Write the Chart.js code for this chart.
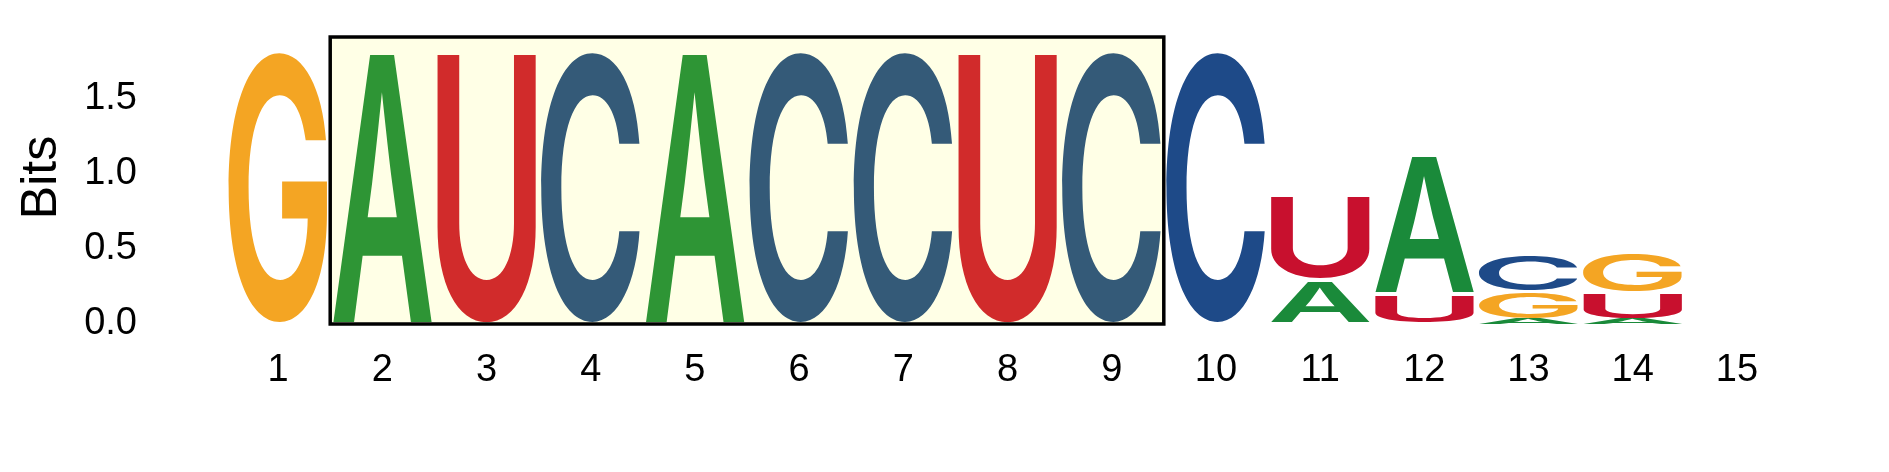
<!DOCTYPE html>
<html>
<head>
<meta charset="utf-8">
<script src="https://cdn.jsdelivr.net/npm/chart.js@4"></script>
<style>
  html, body { margin: 0; padding: 0; background: #ffffff; }
  #wrap { width: 1889px; height: 472px; }
</style>
</head>
<body>
<div id="wrap"><canvas id="logo"></canvas></div>
<script>
// Positions along the motif
const positions = ['1', '2', '3', '4', '5', '6', '7', '8', '9', '10', '11', '12', '13', '14', '15'];

// Letters stacked from the bottom up, one array per layer
const layer1Letters = ['G', 'A', 'U', 'C', 'A', 'C', 'C', 'U', 'C', 'C', 'A', 'U', 'A', 'A', ''];
const layer1Bits    = [1.81, 1.81, 1.81, 1.81, 1.81, 1.81, 1.81, 1.81, 1.81, 1.81, 0.29, 0.20, 0.04, 0.04, 0];
const layer2Letters = ['', '', '', '', '', '', '', '', '', '', 'U', 'A', 'G', 'U', ''];
const layer2Bits    = [0, 0, 0, 0, 0, 0, 0, 0, 0, 0, 0.57, 0.93, 0.17, 0.16, 0];
const layer3Letters = ['', '', '', '', '', '', '', '', '', '', '', '', 'C', 'G', ''];
const layer3Bits    = [0, 0, 0, 0, 0, 0, 0, 0, 0, 0, 0, 0, 0.26, 0.28, 0];

// Highlighted region (positions 2..9) and its height in bits
const highlightFrom = 2;
const highlightTo = 9;
const highlightTop = 1.91;

// Letter colours inside and outside the highlighted region
const insideColors  = { A: '#2e9535', C: '#345a78', G: '#f4a523', U: '#d12b2b' };
const outsideColors = { A: '#1a8a3a', C: '#1e4a88', G: '#f4a523', U: '#c8102e' };

const layerLetters = [layer1Letters, layer2Letters, layer3Letters];
const layerBits = [layer1Bits, layer2Bits, layer3Bits];

function highlightRect(chart) {
    const x = chart.scales.x, y = chart.scales.y;
    const left = x.getPixelForValue(highlightFrom - 1.5);
    const right = x.getPixelForValue(highlightTo - 0.5);
    const top = y.getPixelForValue(highlightTop);
    const bottom = y.getPixelForValue(0);
    return { left, top, w: right - left, h: bottom - top };
}

// Draws the highlight box and each letter stretched over its stacked bar
const letterPlugin = {
    id: 'letters',
    beforeDatasetsDraw(chart) {
        const { ctx } = chart;
        const r = highlightRect(chart);
        ctx.save();
        ctx.fillStyle = '#ffffe6';
        ctx.fillRect(r.left, r.top, r.w, r.h);
        ctx.restore();
    },
    afterDatasetsDraw(chart) {
        const { ctx } = chart;
        ctx.save();
        ctx.font = '600 200px Inter, "Liberation Sans", Arial, sans-serif';
        ctx.textAlign = 'left';
        ctx.textBaseline = 'alphabetic';
        chart.data.datasets.forEach((ds, di) => {
            const meta = chart.getDatasetMeta(di);
            meta.data.forEach((bar, i) => {
                const letter = layerLetters[di][i];
                if (!letter) return;
                const p = bar.getProps(['x', 'y', 'base', 'width'], true);
                const w = p.width;
                let h = p.base - p.y;
                if (h <= 0.5) return;
                const pad = h > 30 ? 2 : 0;
                const top = p.y + pad;
                h = h - 2 * pad;
                const m = ctx.measureText(letter);
                const gw = m.actualBoundingBoxLeft + m.actualBoundingBoxRight;
                const gh = m.actualBoundingBoxAscent + m.actualBoundingBoxDescent;
                const inside = (i + 1) >= highlightFrom && (i + 1) <= highlightTo;
                ctx.fillStyle = (inside ? insideColors : outsideColors)[letter];
                ctx.save();
                ctx.translate(p.x - w / 2, top);
                ctx.scale(w / gw, h / gh);
                ctx.fillText(letter, m.actualBoundingBoxLeft, m.actualBoundingBoxAscent);
                ctx.restore();
            });
        });
        // box outline on top of the letters
        const r = highlightRect(chart);
        ctx.strokeStyle = '#000000';
        ctx.lineWidth = 3.5;
        ctx.strokeRect(r.left, r.top, r.w, r.h);
        ctx.restore();
    }
};

const ctx = document.getElementById('logo').getContext('2d');
const logoChart = new Chart(ctx, {
    type: 'bar',
    data: {
        labels: positions,
        datasets: layerBits.map((bits, k) => ({
            label: 'layer ' + (k + 1),
            data: bits,
            backgroundColor: 'rgba(0,0,0,0)',
            borderWidth: 0,
            barPercentage: 0.95,
            categoryPercentage: 1.0
        }))
    },
    options: {
        responsive: true,
        maintainAspectRatio: false,
        animation: false,
        layout: {
            padding: { left: 0, right: 100, top: 31, bottom: 0 }
        },
        plugins: {
            legend: { display: false },
            tooltip: { enabled: false }
        },
        scales: {
            x: {
                stacked: true,
                grid: { display: false, drawTicks: false },
                border: { display: false },
                ticks: {
                    color: '#000000',
                    padding: 24,
                    font: { family: '"Liberation Sans", Arial, sans-serif', size: 38 }
                },
                afterFit(scale) {
                    scale.height = 148;
                    scale.paddingLeft = 0;
                    scale.paddingRight = 0;
                }
            },
            y: {
                stacked: true,
                min: 0,
                max: 1.95,
                grid: { display: false, drawTicks: false },
                border: { display: false },
                ticks: {
                    stepSize: 0.5,
                    includeBounds: false,
                    color: '#000000',
                    padding: 89,
                    font: { family: '"Liberation Sans", Arial, sans-serif', size: 38 },
                    callback: v => v.toFixed(1)
                },
                title: {
                    display: true,
                    text: 'Bits',
                    color: '#000000',
                    padding: { top: 12, bottom: 12 },
                    font: { family: '"Liberation Sans", Arial, sans-serif', size: 50 }
                },
                afterFit(scale) {
                    scale.width = 226;
                    scale.paddingTop = 0;
                    scale.paddingBottom = 0;
                }
            }
        }
    },
    plugins: [letterPlugin]
});
</script>
</body>
</html>
